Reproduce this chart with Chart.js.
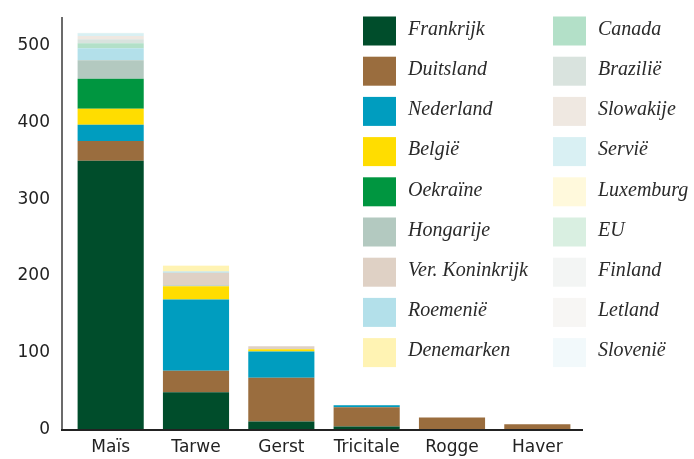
<!DOCTYPE html>
<html>
<head>
<meta charset="utf-8">
<script src="https://cdn.jsdelivr.net/npm/chart.js@4"></script>
<style>
  html, body { margin: 0; padding: 0; background: #fff; }
  #wrap { width: 694px; height: 459px; position: relative; }
</style>
</head>
<body>
<div id="wrap"><canvas id="chart" width="694" height="459"></canvas></div>
<script>
const categories = ['Maïs', 'Tarwe', 'Gerst', 'Tricitale', 'Rogge', 'Haver'];

const countries = ['Frankrijk', 'Duitsland', 'Nederland', 'België', 'Oekraïne', 'Hongarije',
    'Ver. Koninkrijk', 'Roemenië', 'Denemarken', 'Canada', 'Brazilië', 'Slowakije',
    'Servië', 'Luxemburg', 'EU', 'Finland', 'Letland', 'Slovenië'];

const colors = ['#004d2b', '#9a6d3e', '#009dbf', '#ffdd00', '#009640', '#b3c9c0',
    '#dfd1c5', '#b3e0ea', '#fff3b3', '#b3e0c8', '#d9e3de', '#efe8e1',
    '#d9f0f3', '#fff9dc', '#d9efe1', '#f3f5f4', '#f7f6f4', '#f2f9fb'];

// values per country, one number per category (Maïs, Tarwe, Gerst, Tricitale, Rogge, Haver)
const frankrijk  = [350, 48.5, 10.5, 4, 0, 0];
const duitsland  = [26, 28, 57, 25, 15.5, 6.8];
const nederland  = [21, 93, 34, 2.5, 0, 0];
const belgie     = [21, 17, 3, 0, 0, 0];
const oekraine   = [39, 0, 0, 0, 0, 0];
const hongarije  = [24, 1.3, 0, 0, 0, 0];
const verKon     = [0, 16.5, 4, 0.5, 0, 0];
const roemenie   = [15.6, 1.5, 0, 0, 0, 0];
const denemarken = [0, 7.5, 0, 0, 0, 0];
const canada     = [6.5, 0, 0, 0, 0, 0];
const brazilie   = [5.2, 0, 0, 0, 0, 0];
const slowakije  = [4.3, 0, 0, 0, 0, 0];
const servie     = [3.5, 0, 0, 0, 0, 0];
const luxemburg  = [0, 0.4, 0, 0, 0, 0];
const eu         = [0.3, 0, 0, 0, 0, 0];
const finland    = [0.2, 0, 0, 0, 0, 0];
const letland    = [0.2, 0, 0, 0, 0, 0];
const slovenie   = [0.2, 0, 0, 0, 0, 0];

const series = [frankrijk, duitsland, nederland, belgie, oekraine, hongarije, verKon,
    roemenie, denemarken, canada, brazilie, slowakije, servie, luxemburg, eu,
    finland, letland, slovenie];

const yTicks = [0, 100, 200, 300, 400, 500];

const fontSans = 'DejaVu Sans';

// axis lines sit a bit outside the bar area
const axisLines = {
    id: 'axisLines',
    afterDraw(chart) {
        const { ctx, chartArea } = chart;
        ctx.save();
        ctx.strokeStyle = '#6b6b6b';
        ctx.lineWidth = 2;
        ctx.beginPath();
        ctx.moveTo(chartArea.left - 6, 17);
        ctx.lineTo(chartArea.left - 6, chartArea.bottom + 1);
        ctx.stroke();
        ctx.strokeStyle = '#222';
        ctx.beginPath();
        ctx.moveTo(chartArea.left - 7, chartArea.bottom + 0.5);
        ctx.lineTo(chartArea.right + 3, chartArea.bottom + 0.5);
        ctx.stroke();
        ctx.restore();
    }
};

// two column legend in the top right
const legendBoxes = {
    id: 'legendBoxes',
    afterDraw(chart) {
        const ctx = chart.ctx;
        ctx.save();
        ctx.font = 'italic 20px "Liberation Serif"';
        ctx.textBaseline = 'middle';
        chart.data.datasets.forEach((ds, i) => {
            const col = i < 9 ? 0 : 1;
            const row = i % 9;
            const x = 363 + col * 190;
            const y = 16.5 + row * 40.2;
            ctx.fillStyle = ds.backgroundColor;
            ctx.fillRect(x, y, 33, 29);
            ctx.fillStyle = '#2a2a2a';
            ctx.fillText(ds.label, x + 45, y + 13);
        });
        ctx.restore();
    }
};

const ctx = document.getElementById('chart').getContext('2d');
new Chart(ctx, {
    type: 'bar',
    data: {
        labels: categories,
        datasets: series.map((vals, i) => ({
            label: countries[i],
            data: vals,
            backgroundColor: colors[i],
            borderWidth: 0,
            categoryPercentage: 1,
            barPercentage: 0.775
        }))
    },
    options: {
        responsive: false,
        animation: false,
        layout: {
            padding: { left: 0, right: 114, top: 15, bottom: 0 }
        },
        scales: {
            x: {
                stacked: true,
                grid: { display: false, drawTicks: false },
                border: { display: false },
                ticks: {
                    color: '#222',
                    font: { family: fontSans, size: 17 },
                    padding: 8,
                    maxRotation: 0
                },
                afterFit(scale) {
                    scale.height = 29.5;
                    scale.paddingLeft = 0;
                    scale.paddingRight = 0;
                }
            },
            y: {
                stacked: true,
                min: 0,
                max: 540,
                grid: { display: false, drawTicks: false },
                border: { display: false },
                afterBuildTicks(scale) {
                    scale.ticks = yTicks.map(v => ({ value: v }));
                },
                ticks: {
                    color: '#222',
                    font: { family: fontSans, size: 17 },
                    padding: 18
                },
                afterFit(scale) {
                    scale.width = 68;
                    scale.paddingTop = 0;
                    scale.paddingBottom = 0;
                }
            }
        },
        plugins: {
            legend: { display: false },
            tooltip: { enabled: false }
        }
    },
    plugins: [axisLines, legendBoxes]
});
</script>
</body>
</html>
